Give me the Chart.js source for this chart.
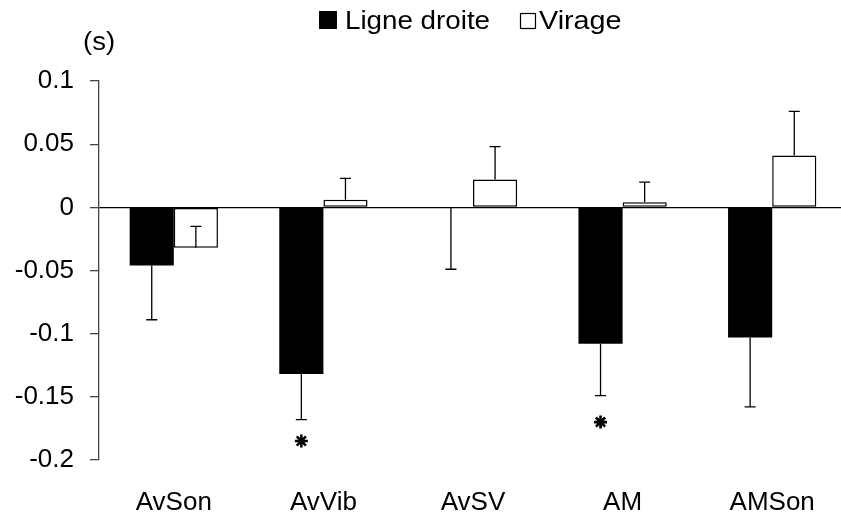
<!DOCTYPE html>
<html lang="fr">
<head>
<meta charset="UTF-8">
<title>Ligne droite / Virage</title>
<script src="https://cdn.jsdelivr.net/npm/chart.js"></script>
<style>
    html, body { margin: 0; padding: 0; background: #fff; overflow: hidden; }
    .chart-wrap { width: 841px; height: 515px; overflow: hidden; }
    #chart { display: block; }
</style>
</head>
<body>
<div class="chart-wrap"><canvas id="chart" width="847" height="515"></canvas></div>
<script>
    // mean differences (s) and their SD, per condition
    const conditions = ['AvSon', 'AvVib', 'AvSV', 'AM', 'AMSon'];
    const ligneDroite = [-0.046, -0.132, 0, -0.108, -0.103];
    const ligneDroiteErr = [0.043, 0.036, 0.049, 0.041, 0.055];
    const virage = [-0.032, 0.006, 0.022, 0.004, 0.041];
    const virageErr = [0.017, 0.017, 0.026, 0.016, 0.035];
    // where the significance stars sit (null = no star)
    const stars = [null, -0.185, null, -0.170, null];
    const yTicks = [0.1, 0.05, 0, -0.05, -0.1, -0.15, -0.2];

    const FONT = "'Liberation Sans', Arial, sans-serif";
    Chart.defaults.font.family = FONT;
    Chart.defaults.font.size = 25;
    Chart.defaults.color = '#000';

    // error bars: black bars go down, white bars go up
    const errorBars = {
        id: 'errorBars',
        afterDatasetsDraw(chart) {
            const ctx = chart.ctx;
            const y = chart.scales.y;
            ctx.save();
            ctx.strokeStyle = '#000';
            ctx.lineWidth = 1.3;
            chart.data.datasets.forEach((ds, i) => {
                const meta = chart.getDatasetMeta(i);
                meta.data.forEach((bar, j) => {
                    const v = ds.data[j];
                    const end = v + ds.errDir * ds.err[j];
                    const y0 = y.getPixelForValue(v);
                    const y1 = y.getPixelForValue(end);
                    ctx.beginPath();
                    ctx.moveTo(bar.x, y0);
                    ctx.lineTo(bar.x, y1);
                    ctx.moveTo(bar.x - 5.5, y1);
                    ctx.lineTo(bar.x + 5.5, y1);
                    ctx.stroke();
                });
            });
            ctx.restore();
        }
    };

    // text drawn a little wider than the font's natural width
    function wideText(ctx, txt, x, y, sx) {
        ctx.save();
        ctx.translate(x, y);
        ctx.scale(sx, 1);
        ctx.fillText(txt, 0, 0);
        ctx.restore();
    }

    // stars, unit label and legend
    const extras = {
        id: 'extras',
        afterDraw(chart) {
            const ctx = chart.ctx;
            const y = chart.scales.y;
            const black = chart.getDatasetMeta(0);
            ctx.save();
            ctx.strokeStyle = '#000';
            ctx.lineWidth = 2.6;
            stars.forEach((s, i) => {
                if (s === null) return;
                const cx = black.data[i].x;
                const cy = y.getPixelForValue(s);
                ctx.beginPath();
                for (let k = 0; k < 4; k++) {
                    const a = k * Math.PI / 4;
                    ctx.moveTo(cx - 6.5 * Math.sin(a), cy - 6.5 * Math.cos(a));
                    ctx.lineTo(cx + 6.5 * Math.sin(a), cy + 6.5 * Math.cos(a));
                }
                ctx.stroke();
            });

            ctx.fillStyle = '#000';
            ctx.font = '25px ' + FONT;
            ctx.textBaseline = 'alphabetic';
            ctx.textAlign = 'center';
            wideText(ctx, '(s)', chart.chartArea.left, 50, 1.1);

            ctx.textAlign = 'left';
            ctx.fillRect(319, 11, 18, 18);
            wideText(ctx, 'Ligne droite', 345, 29, 1.11);
            ctx.lineWidth = 1.2;
            ctx.strokeRect(520.5, 13.5, 15, 15);
            wideText(ctx, 'Virage', 539, 29, 1.15);
            ctx.restore();
        }
    };

    new Chart(document.getElementById('chart'), {
        type: 'bar',
        data: {
            labels: conditions,
            datasets: [{
                label: 'Ligne droite',
                data: ligneDroite,
                err: ligneDroiteErr,
                errDir: -1,
                backgroundColor: '#000',
                borderColor: '#000',
                borderWidth: 0
            }, {
                label: 'Virage',
                data: virage,
                err: virageErr,
                errDir: 1,
                backgroundColor: '#fff',
                borderColor: '#000',
                borderWidth: 1.5,
                borderSkipped: false
            }]
        },
        options: {
            responsive: false,
            animation: false,
            devicePixelRatio: 1,
            layout: { padding: { top: 81, left: 0, right: 0, bottom: 0 } },
            categoryPercentage: 0.59,
            barPercentage: 1,
            plugins: {
                legend: { display: false },
                tooltip: { enabled: false }
            },
            scales: {
                x: {
                    grid: { display: false, drawTicks: false },
                    border: { display: false },
                    ticks: { padding: 27, maxRotation: 0, font: { size: 26 } },
                    afterFit(scale) { scale.height = 55; }
                },
                y: {
                    min: -0.2,
                    max: 0.1,
                    afterBuildTicks(scale) {
                        scale.ticks = yTicks.map(v => ({ value: v }));
                    },
                    ticks: {
                        padding: 16,
                        font: { size: 26 },
                        callback: v => String(Math.round(v * 100) / 100)
                    },
                    grid: {
                        color: c => (c.tick && c.tick.value === 0) ? '#000' : 'rgba(0,0,0,0)',
                        tickColor: '#444',
                        tickLength: 9,
                        lineWidth: 1.3
                    },
                    border: { color: '#444', width: 1.3 },
                    afterFit(scale) { scale.width = 99; }
                }
            }
        },
        plugins: [errorBars, extras]
    });
</script>
</body>
</html>
